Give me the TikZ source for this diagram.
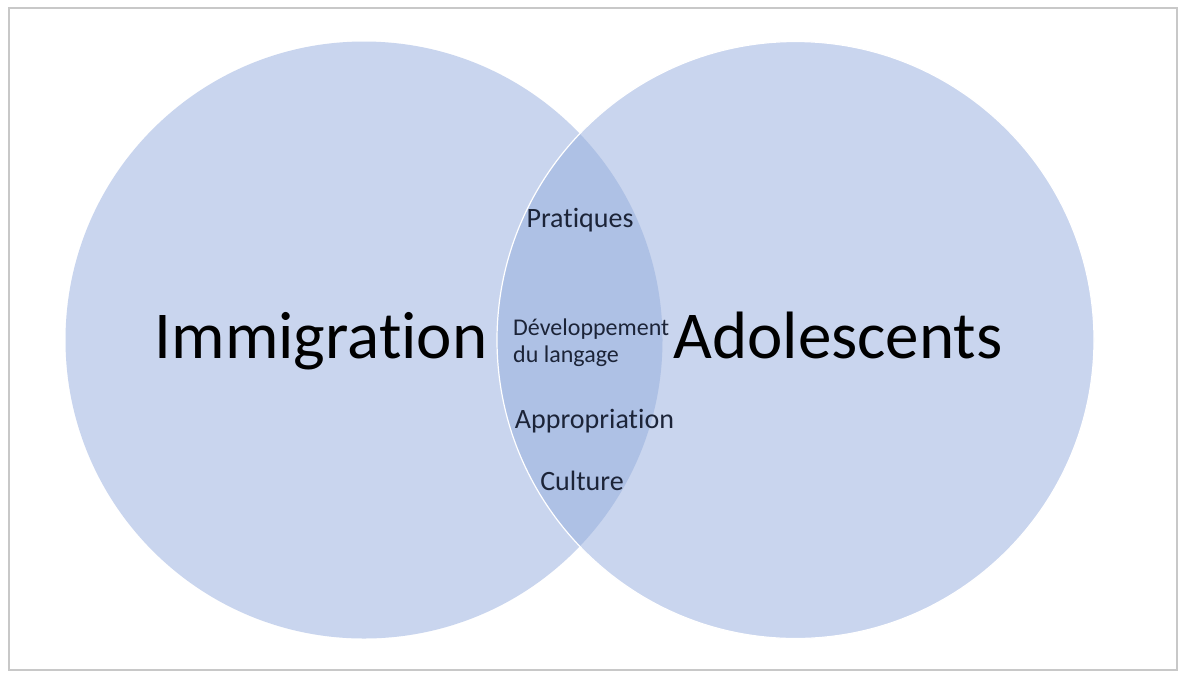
\documentclass[tikz,border=0pt]{standalone}
\usepackage{fontspec}
\setmainfont{Carlito}[Ligatures={NoCommon}]
\definecolor{circfill}{RGB}{201,213,238}
\definecolor{lensfill}{RGB}{174,193,229}
\definecolor{smalltext}{RGB}{28,36,56}
\definecolor{framecol}{RGB}{200,200,200}
\begin{document}
\begin{tikzpicture}[x=1pt,y=-1pt,
  venn/.style={circle, inner sep=0pt, minimum size=597pt, fill=circfill},
  bigtext/.style={inner sep=0pt, anchor=base, font=\fontsize{67}{80}\selectfont, text=black},
  smalltxt/.style={inner sep=0pt, font=\fontsize{28}{32}\selectfont, text=smalltext},
  tinytxt/.style={inner sep=0pt, anchor=base west, font=\fontsize{24}{27}\selectfont, text=smalltext}]
\useasboundingbox (0,0) rectangle (1180,673);
\fill[white] (0,0) rectangle (1180,673);
\draw[framecol, line width=1.2pt] (9,8) rectangle (1177,670);
\node[venn] (L) at (364,340) {};
\node[venn] (R) at (795.5,340) {};
\begin{scope}
  \clip (L.center) circle (298.5pt);
  \fill[lensfill] (R.center) circle (298.5pt);
\end{scope}
\draw[white, line width=1.2pt] (R.center) circle (298.5pt);
\node[bigtext] (imm) at (321,358) {Immigration};
\node[bigtext] (ado) at (838,358) {Adolescents};
\node[smalltxt, anchor=base] (pra) at (580,227) {Pratiques};
\node[tinytxt] (dev) at (513,335) {Développement};
\node[tinytxt] (lan) at (513,362) {du langage};
\node[smalltxt, anchor=base] (app) at (594.5,428) {Appropriation};
\node[smalltxt, anchor=base] (cul) at (582,490) {Culture};
\end{tikzpicture}
\end{document}
